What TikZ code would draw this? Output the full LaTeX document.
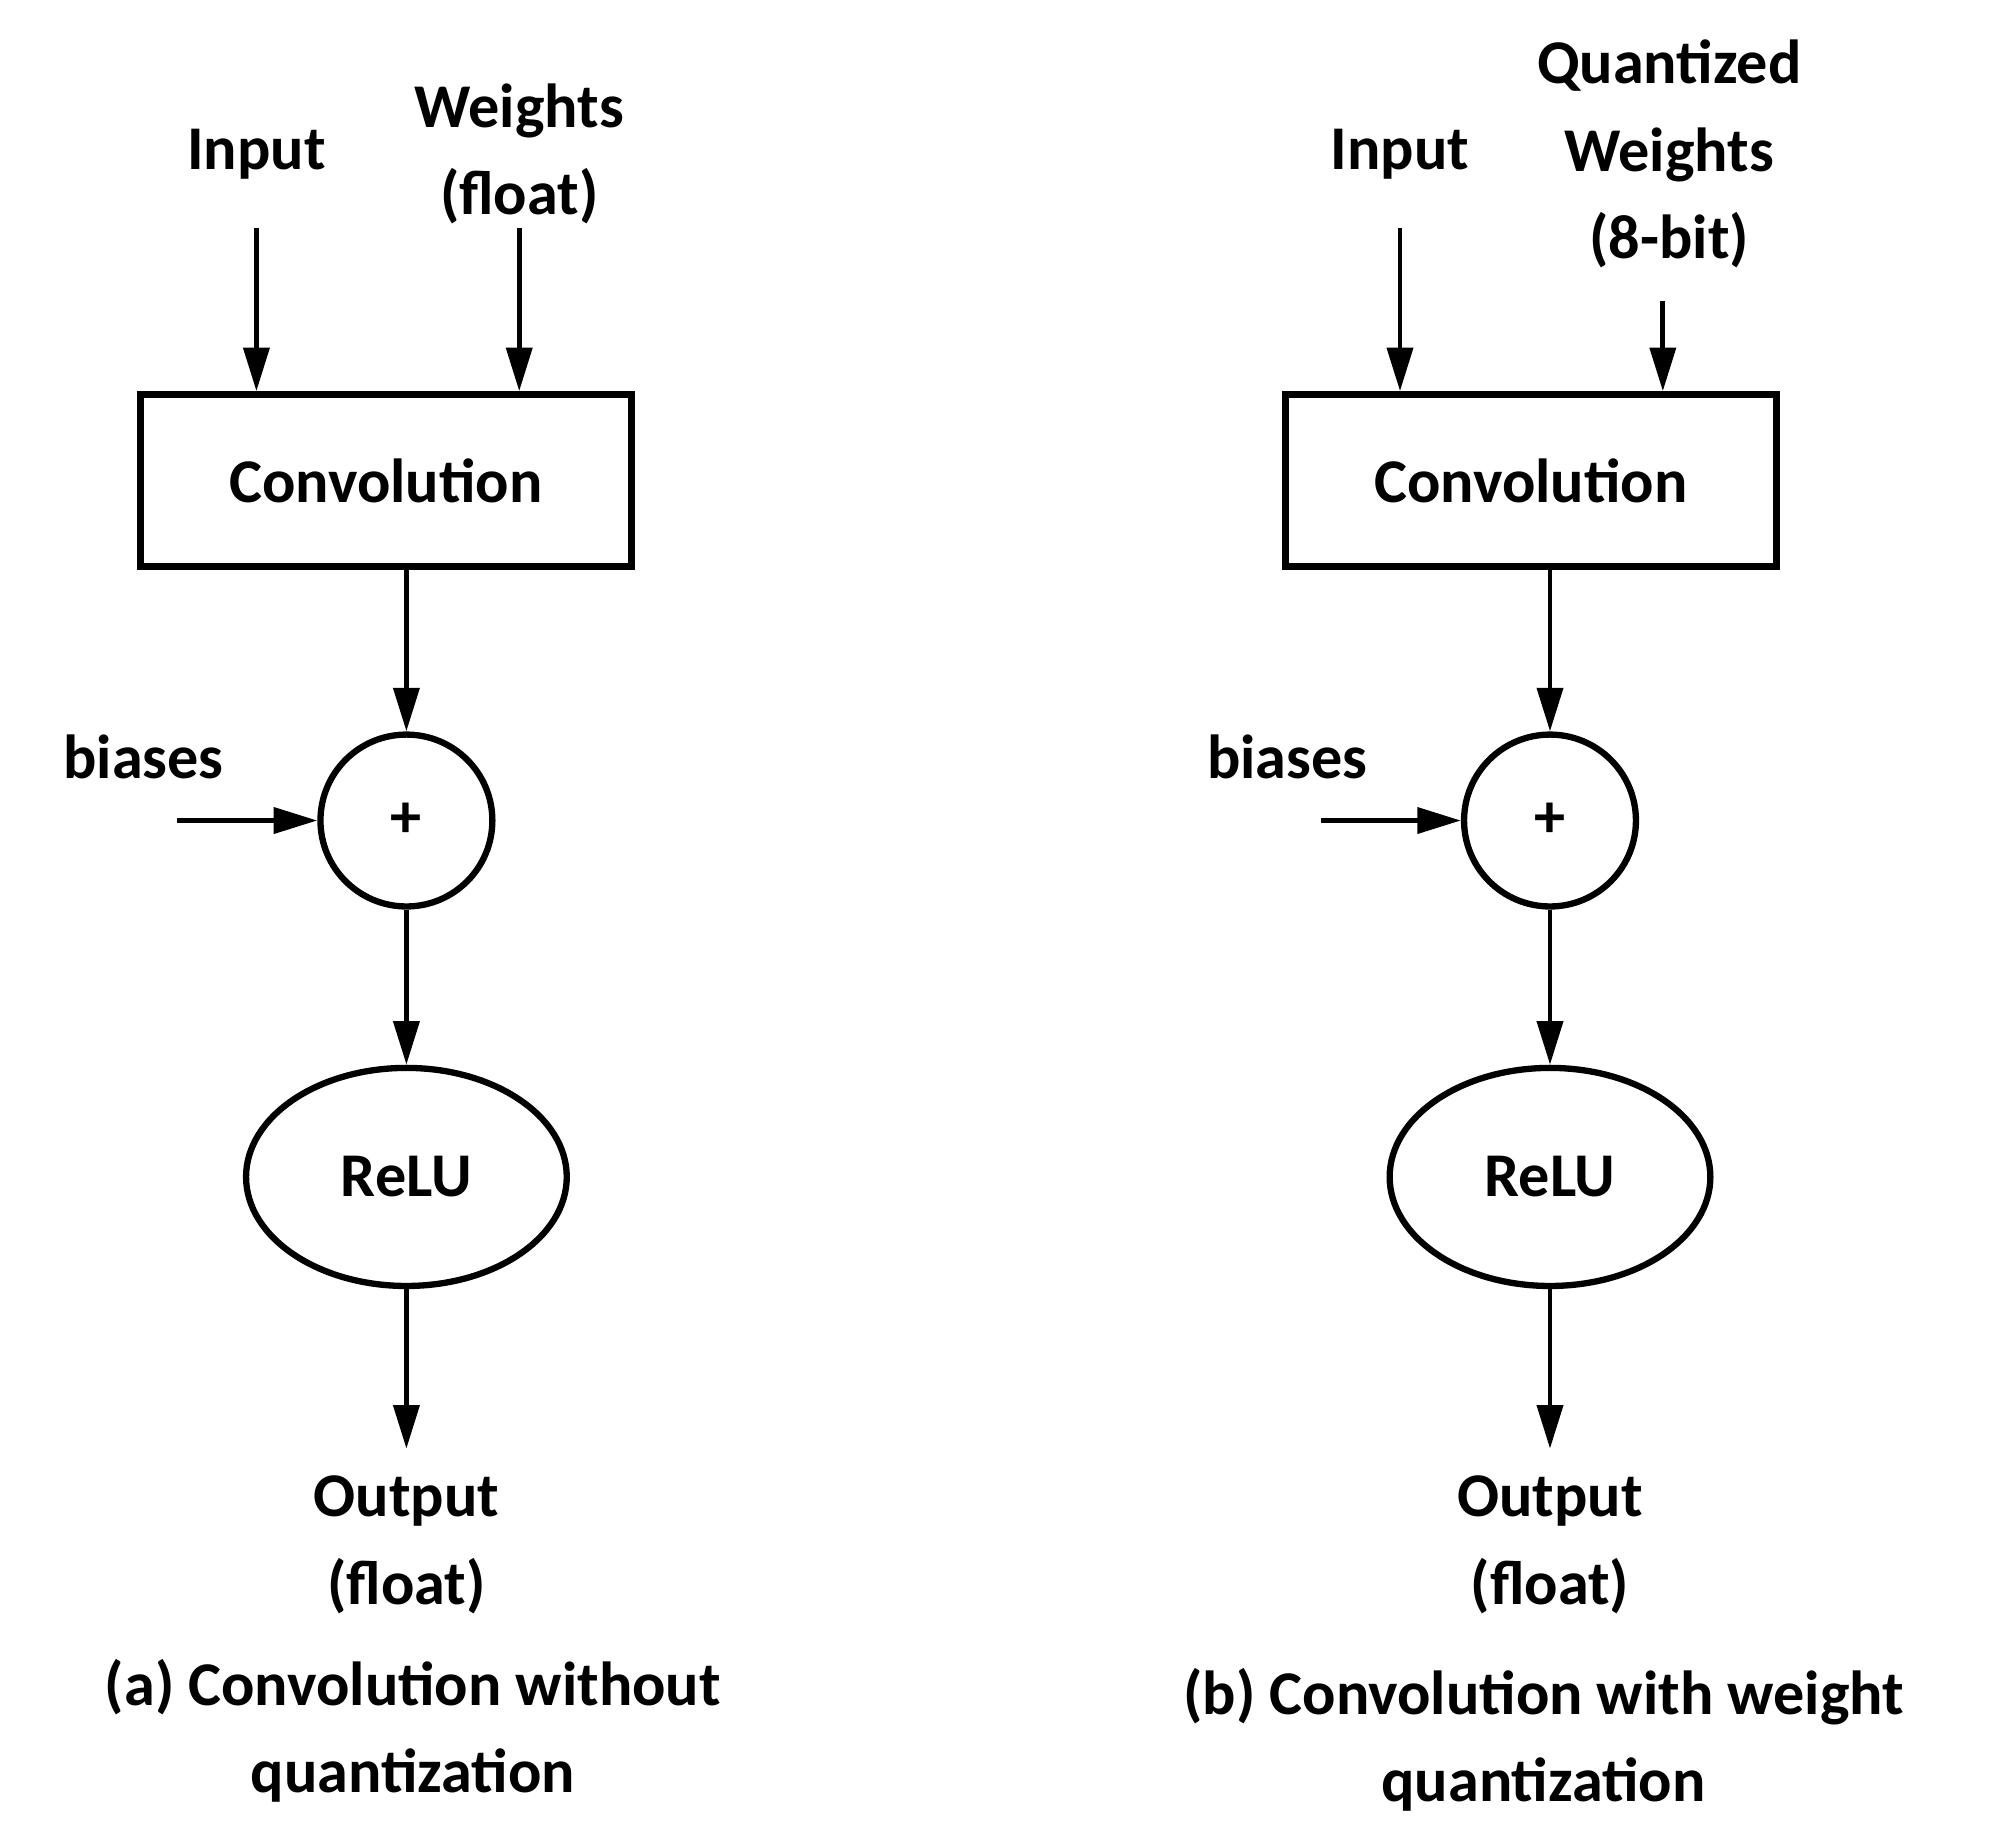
\documentclass[tikz,border=0pt]{standalone}
\usepackage{fontspec}
\setmainfont{Carlito}
\usetikzlibrary{shapes.geometric,arrows.meta}
\tikzset{
  block/.style={rectangle, draw, line width=1.6pt, minimum width=3.83cm, minimum height=1.34cm},
  adder/.style={circle, draw, line width=1.4pt, minimum size=1.34cm, inner sep=0pt},
  act/.style={ellipse, draw, line width=1.4pt, minimum width=2.5cm, minimum height=1.7cm},
  lbl/.style={align=center, font=\bfseries, inner sep=0pt},
  line/.style={draw, line width=1.1pt, -{Triangle[length=0.34cm,width=0.2cm]}}
}
\begin{document}
\fontsize{13.8}{19.5}\selectfont
\begin{tikzpicture}[x=0.01cm, y=-0.01cm]
    \useasboundingbox (0,0) rectangle (1560,1433);
    % Left: without quantization
    \node [lbl] (inA) at (200,120) {Input};
    \node [lbl] (wA) at (405,120) {Weights\\(float)};
    \coordinate (inAs) at (200,178);
    \coordinate (wAs) at (405,178);
    \node [block] (convA) at (301,375) {\bfseries Convolution};
    \node [adder] (addA) at (317,640) {\bfseries +};
    \node [lbl] (bA) at (112,590) {biases};
    \coordinate (bAs) at (138,640);
    \node [act] (reluA) at (317,918) {\bfseries ReLU};
    \node [lbl] (outA) at (317,1205) {Output\\(float)};
    \coordinate (outAe) at (317,1130);
    \node [lbl] (capA) at (322,1350) {(a) Convolution without\\quantization};
    % Right: with weight quantization
    \node [lbl] (inB) at (1092,120) {Input};
    \node [lbl] (wB) at (1302,120) {Quantized\\Weights\\(8-bit)};
    \coordinate (inBs) at (1092,178);
    \coordinate (wBs) at (1297,235);
    \node [block] (convB) at (1194,375) {\bfseries Convolution};
    \node [adder] (addB) at (1209,640) {\bfseries +};
    \node [lbl] (bB) at (1004,590) {biases};
    \coordinate (bBs) at (1030,640);
    \node [act] (reluB) at (1209,918) {\bfseries ReLU};
    \node [lbl] (outB) at (1209,1205) {Output\\(float)};
    \coordinate (outBe) at (1209,1130);
    \node [lbl] (capB) at (1204,1357) {(b) Convolution with weight\\quantization};
    % Draw edges
    \path [line] (inAs) -- (inAs |- convA.north);
    \path [line] (wAs) -- (wAs |- convA.north);
    \path [line] (addA |- convA.south) -- (addA.north);
    \path [line] (bAs) -- (addA.west);
    \path [line] (addA.south) -- (reluA.north);
    \path [line] (reluA.south) -- (outAe);
    \path [line] (inBs) -- (inBs |- convB.north);
    \path [line] (wBs) -- (wBs |- convB.north);
    \path [line] (addB |- convB.south) -- (addB.north);
    \path [line] (bBs) -- (addB.west);
    \path [line] (addB.south) -- (reluB.north);
    \path [line] (reluB.south) -- (outBe);
\end{tikzpicture}
\end{document}
